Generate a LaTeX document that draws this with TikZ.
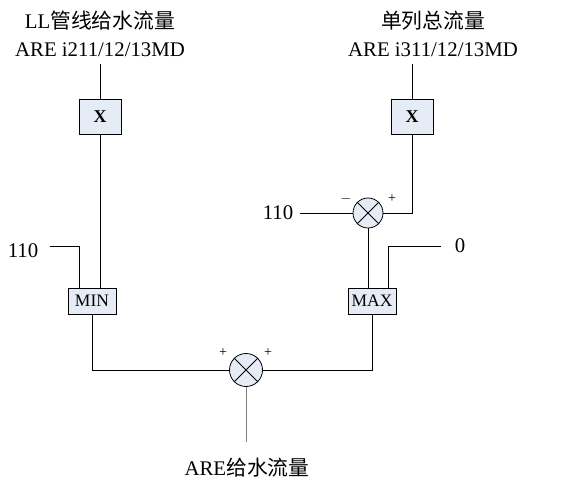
\documentclass[tikz,border=0pt]{standalone}
\usepackage{fontspec}
\setmainfont{Liberation Serif}
\newfontfamily\cjk{Noto Sans CJK SC}
\definecolor{blkfill}{RGB}{230,236,246}
\begin{document}
\begin{tikzpicture}[x=1pt,y=-1pt,line width=0.8pt,
    blk/.style={draw,fill=blkfill,inner sep=0pt},
    sumnode/.style={draw,circle,fill=blkfill,inner sep=0pt},
    lbl/.style={inner sep=0pt,font=\fontsize{20.8}{28}\selectfont},
    sgn/.style={inner sep=0pt,font=\fontsize{14}{14}\selectfont}]
    \useasboundingbox (0,0) rectangle (566,480);
    %labels
    \node[lbl,align=center,anchor=south,inner ysep=7pt] (inL) at (100,64) {LL{\cjk 管线给水流量}\\ARE i211/12/13MD};
    \node[lbl,align=center,anchor=south,inner ysep=7pt] (inR) at (433,64) {{\cjk 单列总流量}\\ARE i311/12/13MD};
    \node[lbl] (c110L) at (23,251) {110};
    \node[lbl] (c110R) at (278,213) {110};
    \node[lbl] (c0) at (460,246) {0};
    \node[lbl,anchor=base] (outB) at (247,475) {ARE{\cjk 给水流量}};
    \coordinate (outE) at (246,442);
    %blocks
    \node[blk,minimum width=42pt,minimum height=35pt,font=\fontsize{18}{18}\selectfont\bfseries] (xL) at (100,117) {X};
    \node[blk,minimum width=42pt,minimum height=35pt,font=\fontsize{18}{18}\selectfont\bfseries] (xR) at (412,117) {X};
    \node[blk,minimum width=48pt,minimum height=26pt,font=\fontsize{17.5}{17.5}\selectfont] (minL) at (92,301) {MIN};
    \node[blk,minimum width=48pt,minimum height=26pt,font=\fontsize{17.5}{17.5}\selectfont] (maxR) at (372,301) {MAX};
    \node[sumnode,minimum size=30pt] (sumR) at (368,213) {};
    \node[sumnode,minimum size=33pt] (sumB) at (246,370) {};
    \draw (sumR.north west) -- (sumR.south east) (sumR.north east) -- (sumR.south west);
    \draw (sumB.north west) -- (sumB.south east) (sumB.north east) -- (sumB.south west);
    %signs
    \node[sgn] (mR) at (346,199) {$-$};
    \node[sgn] (pR) at (392,199) {+};
    \node[sgn] (pB1) at (223,353) {+};
    \node[sgn] (pB2) at (268,353) {+};
    %left branch
    \draw (inL.south) -- (xL.north);
    \draw (xL.south) -- (xL.south |- minL.north);
    \draw ([xshift=11pt,yshift=5pt]c110L.east) -| ([xshift=-13pt]minL.north);
    \draw (minL.south) |- (sumB.west);
    %right branch
    \draw (xR.north |- inR.south) -- (xR.north);
    \draw (xR.south) |- (sumR.east);
    \draw ([xshift=6pt]c110R.east) -- (sumR.west);
    \draw (sumR.south) -- (sumR.south |- maxR.north);
    \draw ([xshift=-13pt]c0.west) -| ([xshift=16pt]maxR.north);
    \draw (maxR.south) |- (sumB.east);
    %output
    \draw[gray] (sumB.south) -- (outE);
\end{tikzpicture}
\end{document}
